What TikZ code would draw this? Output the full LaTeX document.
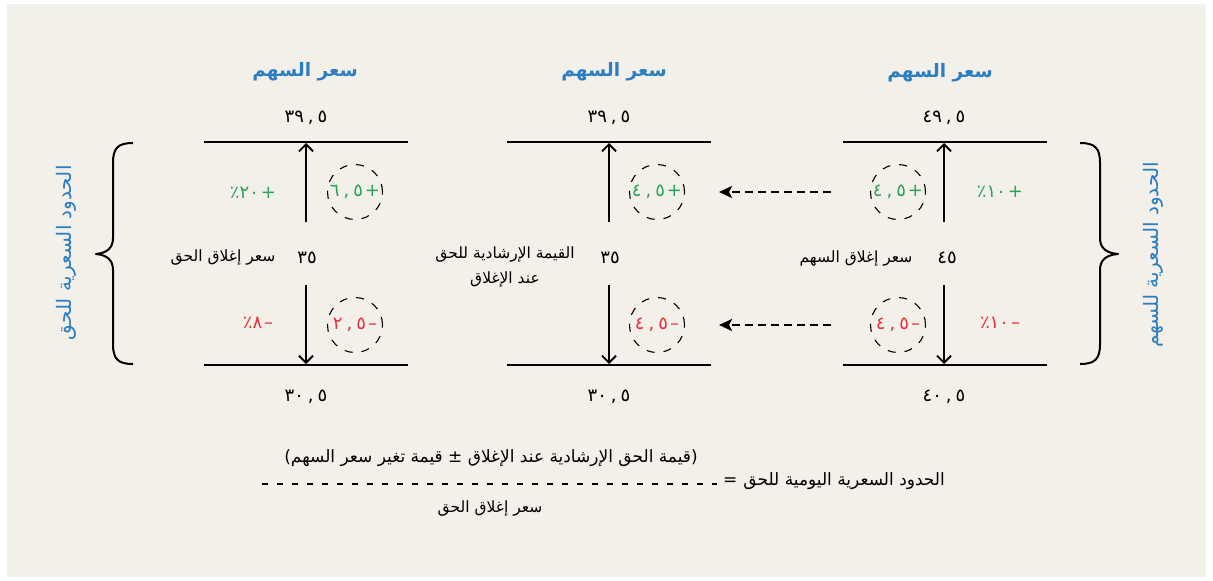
\documentclass[tikz,border=0pt]{standalone}
\usepackage{fontspec}
\setmainfont{DejaVu Sans}
\newfontfamily\arabicfont[Script=Arabic]{DejaVu Sans}
\TeXXeTstate=1
\usetikzlibrary{arrows.meta}
\definecolor{bgc}{HTML}{F3EFE9}
\definecolor{hblue}{HTML}{2B7EC1}
\definecolor{pgreen}{HTML}{2AA35A}
\definecolor{nred}{HTML}{E8303A}
\newcommand\ar[1]{{\arabicfont\beginR #1\endR}}
\begin{document}
\begin{tikzpicture}[x=1pt,y=-1pt,
  hdr/.style={font=\arabicfont\bfseries\fontsize{18.5}{22}\selectfont, text=hblue, inner sep=0pt},
  num/.style={font=\fontsize{18}{20}\selectfont, inner sep=0pt},
  lbl/.style={font=\fontsize{15.5}{25}\selectfont, inner sep=0pt, align=center},
  flbl/.style={font=\fontsize{17}{20}\selectfont, inner sep=0pt},
  side/.style={font=\fontsize{20}{22}\selectfont, text=hblue, rotate=90, inner sep=0pt},
  ring/.style={circle, draw, dash pattern=on 8pt off 9pt, line width=1.1pt, minimum size=55pt, inner sep=0pt, font=\fontsize{18}{20}\selectfont},
  gain/.style={text=pgreen},
  loss/.style={text=nred},
  pct/.style={font=\fontsize{18}{20}\selectfont, inner sep=0pt},
  lvl/.style={line width=2.4pt},
  mv/.style={line width=2pt, -{Straight Barb[length=7pt,width=14pt,line width=1.8pt]}},
  lnk/.style={line width=2.5pt, dash pattern=on 8pt off 5pt, -{Stealth[length=13pt,width=12pt,inset=3pt]}, shorten <=39pt, shorten >=34pt},
  brc/.style={line width=2pt, line join=round},
  frac/.style={line width=1.4pt, dash pattern=on 6pt off 9pt},
]
\useasboundingbox (0,0) rectangle (1213,581);
\fill[bgc] (7,4) rectangle (1206,577);

% ---------- right panel ----------
\node[hdr] (rh) at (940,73) {\ar{سعر السهم}};
\node[num] (rtop) at (944,118) {٤٩\kern4pt,\kern4pt٥};
\node[num] (rbot) at (944,397) {٤٠\kern4pt,\kern4pt٥};
\node[num] (rmid) at (947,258) {٤٥};
\node[lbl] (rlab) at (856,258) {\ar{سعر إغلاق السهم}};
\coordinate (rl1) at (843,142); \coordinate (rr1) at (1047,142);
\coordinate (rl2) at (843,365); \coordinate (rr2) at (1047,365);
\draw[lvl] (rl1) -- (rr1);
\draw[lvl] (rl2) -- (rr2);
\coordinate (ra1) at (944,222); \coordinate (ra1e) at (944,143);
\coordinate (ra2) at (944,285); \coordinate (ra2e) at (944,364);
\draw[mv] (ra1) -- (ra1e);
\draw[mv] (ra2) -- (ra2e);
\node[ring,gain] (rc1) at (898,192) {٤\kern4pt,\kern4pt٥\kern2pt+};
\node[ring,loss] (rc2) at (898,325) {٤\kern4pt,\kern4pt٥\kern2pt–};
\node[pct,gain] (rp1) at (1000,192) {٪١٠\kern2pt+};
\node[pct,loss] (rp2) at (1000,323) {٪١٠\kern2pt–};

% ---------- middle panel ----------
\node[hdr] (mh) at (614,72) {\ar{سعر السهم}};
\node[num] (mtop) at (609,118) {٣٩\kern4pt,\kern4pt٥};
\node[num] (mbot) at (609,397) {٣٠\kern4pt,\kern4pt٥};
\node[num] (mmid) at (610,258) {٣٥};
\node[lbl] (mlab) at (505,267) {\ar{القيمة الإرشادية للحق}\\ \ar{عند الإغلاق}};
\coordinate (ml1) at (507,142); \coordinate (mr1) at (711,142);
\coordinate (ml2) at (507,365); \coordinate (mr2) at (711,365);
\draw[lvl] (ml1) -- (mr1);
\draw[lvl] (ml2) -- (mr2);
\coordinate (ma1) at (609,222); \coordinate (ma1e) at (609,143);
\coordinate (ma2) at (609,285); \coordinate (ma2e) at (609,364);
\draw[mv] (ma1) -- (ma1e);
\draw[mv] (ma2) -- (ma2e);
\node[ring,gain] (mc1) at (657,192) {٤\kern4pt,\kern4pt٥\kern2pt+};
\node[ring,loss] (mc2) at (657,325) {٤\kern4pt,\kern4pt٥\kern2pt–};

\draw[lnk] (rc1) -- (mc1);
\draw[lnk] (rc2) -- (mc2);

% ---------- left panel ----------
\node[hdr] (lh) at (305,72) {\ar{سعر السهم}};
\node[num] (ltop) at (306,118) {٣٩\kern4pt,\kern4pt٥};
\node[num] (lbot) at (306,397) {٣٠\kern4pt,\kern4pt٥};
\node[num] (lmid) at (307,258) {٣٥};
\node[lbl] (llab) at (223,258) {\ar{سعر إغلاق الحق}};
\coordinate (ll1) at (204,142); \coordinate (lr1) at (408,142);
\coordinate (ll2) at (204,365); \coordinate (lr2) at (408,365);
\draw[lvl] (ll1) -- (lr1);
\draw[lvl] (ll2) -- (lr2);
\coordinate (la1) at (306,222); \coordinate (la1e) at (306,143);
\coordinate (la2) at (306,285); \coordinate (la2e) at (306,364);
\draw[mv] (la1) -- (la1e);
\draw[mv] (la2) -- (la2e);
\node[ring,gain] (lc1) at (355,192) {٦\kern4pt,\kern4pt٥\kern2pt+};
\node[ring,loss] (lc2) at (355,325) {٢\kern4pt,\kern4pt٥\kern2pt–};
\node[pct,gain] (lp1) at (253,193) {٪٢٠\kern2pt+};
\node[pct,loss] (lp2) at (258,323) {٪٨\kern2pt–};

% ---------- braces ----------
\draw[brc] (133,143) .. controls (118,143) and (113,148) .. (113,163) -- (113,238)
  .. controls (113,248) and (107,253) .. (96,254)
  .. controls (107,255) and (113,260) .. (113,270) -- (113,344)
  .. controls (113,359) and (118,364) .. (133,364);
\draw[brc] (1080,143) .. controls (1095,143) and (1100,148) .. (1100,163) -- (1100,238)
  .. controls (1100,248) and (1106,253) .. (1118,254)
  .. controls (1106,255) and (1100,260) .. (1100,270) -- (1100,344)
  .. controls (1100,359) and (1095,364) .. (1080,364);
\node[side] (lside) at (66,253) {\ar{الحدود السعرية للحق}};
\node[side] (rside) at (1153,255) {\ar{الحدود السعرية للسهم}};

% ---------- formula ----------
\node[flbl] (fnum) at (491,458) {(\ar{قيمة الحق الإرشادية عند الإغلاق ± قيمة تغير سعر السهم})};
\coordinate (fl) at (262,484); \coordinate (fr) at (717,484);
\draw[frac] (fl) -- (fr);
\node[lbl] (fden) at (490,509) {\ar{سعر إغلاق الحق}};
\node[flbl,anchor=east] (feq) at (945,481) {=\kern6pt\ar{الحدود السعرية اليومية للحق}};
\end{tikzpicture}
\end{document}
